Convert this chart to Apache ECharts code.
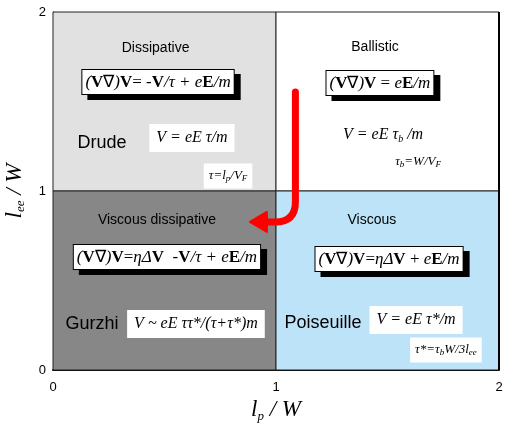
<!DOCTYPE html>
<html>
<head>
<meta charset="utf-8">
<script src="https://cdn.jsdelivr.net/npm/echarts@6/dist/echarts.min.js"></script>
<style>
  html, body { margin: 0; padding: 0; background: #fff; }
  #chart { width: 505px; height: 423px; }
</style>
</head>
<body>
<div id="chart"></div>
<script>
// axis ticks
const xTicks = [0, 1, 2];
const yTicks = [0, 1, 2];

// regime quadrants (l_p/W range, l_ee/W range)
const quadX0 = [0, 1, 0, 1];
const quadX1 = [1, 2, 1, 2];
const quadY0 = [1, 1, 0, 0];
const quadY1 = [2, 2, 1, 1];
const quadFill = ['#e1e1e1', '#ffffff', '#878787', '#bde3f8'];

// region titles
const titleNames = ['Dissipative', 'Ballistic', 'Viscous dissipative', 'Viscous'];
const titleX = [0.46, 1.444, 0.466, 1.43];
const titleY = [1.80, 1.804, 0.838, 0.838];

// regime names
const regimeNames = ['Drude', 'Gurzhi', 'Poiseuille'];
const regimeX = [0.22, 0.175, 1.211];
const regimeY = [1.268, 0.257, 0.263];

// boxed equations of motion
const equations = [
  '{i|(}{b|V}{n|∇}{i|)}{b|V}{n|= -}{b|V}{i|/τ + e}{b|E}{i|/m}',
  '{i|(}{b|V}{n|∇}{i|)}{b|V}{n| = }{i|e}{b|E}{i|/m}',
  '{i|(}{b|V}{n|∇}{i|)}{b|V}{n|=}{i|ηΔ}{b|V}{n|  -}{b|V}{i|/τ + e}{b|E}{i|/m}',
  '{i|(}{b|V}{n|∇}{i|)}{b|V}{n|=}{i|ηΔ}{b|V}{n| + }{i|e}{b|E}{i|/m}'
];
const eqX = [0.471, 1.466, 0.511, 1.507];
const eqY = [1.609, 1.603, 0.631, 0.62];

// velocity formulas
const formulas = [
  '{i|V = eE τ/m}',
  '{i|V = eE τ}{s|b}{i| /m}',
  '{i|V ~ eE ττ*/(τ+τ*)m}',
  '{i|V = eE τ*/m}'
];
const formX = [0.623, 1.48, 0.641, 1.628];
const formY = [1.296, 1.313, 0.257, 0.279];
const formBox = [true, false, true, true];

// relaxation times
const notes = [
  '{i|τ=l}{s|p}{i|/V}{s|F}',
  '{i|τ}{s|b}{i|=W/V}{s|F}',
  '{i|τ*=τ}{s|b}{i|W/3l}{s|ee}'
];
const noteX = [0.785, 1.637, 1.762];
const noteY = [1.084, 1.162, 0.112];
const noteBox = [true, false, true];

// crossover arrow (viscous -> viscous dissipative)
const arrowX = [1.087, 1.087, 0.883];
const arrowY = [1.553, 0.827, 0.827];

const SANS = 'Liberation Sans, Arial, sans-serif';
const SERIF = 'Liberation Serif, Times New Roman, serif';

function rich(size, subSize) {
  const base = { color: '#000', textShadowColor: 'transparent', textShadowBlur: 0 };
  return {
    b: Object.assign({ fontFamily: SERIF, fontWeight: 'bold', fontSize: size }, base),
    i: Object.assign({ fontFamily: SERIF, fontStyle: 'italic', fontSize: size }, base),
    n: Object.assign({ fontFamily: SERIF, fontSize: size }, base),
    s: Object.assign({ fontFamily: SERIF, fontStyle: 'italic', fontSize: subSize,
      verticalAlign: 'bottom', lineHeight: size + 2 }, base)
  };
}

const chart = echarts.init(document.getElementById('chart'));

const textSeries = (data, z) => ({
  type: 'scatter',
  symbolSize: 0,
  silent: true,
  z: z || 10,
  itemStyle: { opacity: 1 },
  data: data
});

const option = {
  animation: false,
  grid: { left: 53, right: 6, top: 12, bottom: 53, show: false, outerBoundsMode: 'none', containLabel: false },
  xAxis: {
    type: 'value', min: 0, max: 2, interval: 1,
    name: '{i|l}{s|p}{i| / W}',
    nameLocation: 'middle', nameGap: 26,
    nameTextStyle: { rich: rich(23, 13) },
    axisLine: { show: true, onZero: false, lineStyle: { color: '#000', width: 2 } },
    axisTick: { show: false },
    splitLine: { show: false },
    axisLabel: { margin: 11, fontFamily: SANS, fontSize: 13, color: '#000',
      formatter: v => xTicks.includes(v) ? String(v) : '' }
  },
  yAxis: {
    type: 'value', min: 0, max: 2, interval: 1,
    name: '{i|l}{s|ee}{i| / W}',
    nameLocation: 'middle', nameGap: 26, nameRotate: 90,
    nameTextStyle: { rich: rich(23, 13) },
    axisLine: { show: true, onZero: false, lineStyle: { color: '#000', width: 1 } },
    axisTick: { show: false },
    splitLine: { show: false },
    axisLabel: { margin: 7, fontFamily: SANS, fontSize: 13, color: '#000',
      formatter: v => yTicks.includes(v) ? String(v) : '' }
  },
  series: [
    {
      type: 'custom',
      silent: true,
      z: 1,
      data: quadFill.map((c, i) => [quadX0[i], quadX1[i], quadY0[i], quadY1[i], i]),
      renderItem: function (params, api) {
        const p0 = api.coord([api.value(0), api.value(3)]);
        const p1 = api.coord([api.value(1), api.value(2)]);
        return {
          type: 'rect',
          shape: { x: p0[0], y: p0[1], width: p1[0] - p0[0], height: p1[1] - p0[1] },
          style: { fill: quadFill[api.value(4)], stroke: '#222', lineWidth: 1 }
        };
      }
    },
    {
      // right border slightly heavier like the original frame
      type: 'custom',
      silent: true,
      z: 2,
      data: [[2, 0, 2]],
      renderItem: function (params, api) {
        const a = api.coord([api.value(0), api.value(1)]);
        const b = api.coord([api.value(0), api.value(2)]);
        return { type: 'line', shape: { x1: a[0], y1: a[1], x2: b[0], y2: b[1] },
          style: { stroke: '#000', lineWidth: 2 } };
      }
    },
    {
      type: 'custom',
      silent: true,
      z: 20,
      data: [[0]],
      renderItem: function (params, api) {
        const s = api.coord([arrowX[0], arrowY[0]]);
        const c = api.coord([arrowX[1], arrowY[1]]);
        const t = api.coord([arrowX[2], arrowY[2]]);
        const r = 20, head = 17, hw = 10;
        const d = 'M' + s[0] + ' ' + s[1] +
          ' L' + c[0] + ' ' + (c[1] - r) +
          ' Q' + c[0] + ' ' + c[1] + ' ' + (c[0] - r) + ' ' + c[1] +
          ' L' + (t[0] + head - 2) + ' ' + t[1];
        return {
          type: 'group',
          children: [
            { type: 'path', shape: { pathData: d },
              style: { fill: null, stroke: '#ff0000', lineWidth: 7, lineCap: 'round', lineJoin: 'round' } },
            { type: 'polygon',
              shape: { points: [[t[0], t[1]], [t[0] + head, t[1] - hw], [t[0] + head, t[1] + hw]] },
              style: { fill: '#ff0000', stroke: '#ff0000', lineWidth: 2, lineJoin: 'round' } }
          ]
        };
      }
    },
    textSeries(titleNames.map((n, i) => ({
      value: [titleX[i], titleY[i]],
      label: { show: true, position: 'inside', formatter: n, fontFamily: SANS, fontSize: 14, color: '#000' }
    }))),
    textSeries(regimeNames.map((n, i) => ({
      value: [regimeX[i], regimeY[i]],
      label: { show: true, position: 'inside', formatter: n, fontFamily: SANS, fontSize: 18, color: '#000' }
    }))),
    // box shadows: plain dark boxes behind the equations
    textSeries(equations.map((n, i) => ({
      value: [eqX[i], eqY[i]],
      label: {
        show: true, position: 'inside', formatter: n, rich: rich(17, 11),
        backgroundColor: '#000', borderColor: '#000', borderWidth: 1,
        padding: [4, 3, 3, 3], offset: [6, 5]
      }
    })), 9),
    textSeries(equations.map((n, i) => ({
      value: [eqX[i], eqY[i]],
      label: {
        show: true, position: 'inside', formatter: n, rich: rich(17, 11),
        backgroundColor: '#fff', borderColor: '#000', borderWidth: 1,
        padding: [4, 3, 3, 3]
      }
    })), 11),
    textSeries(formulas.map((n, i) => ({
      value: [formX[i], formY[i]],
      label: {
        show: true, position: 'inside', formatter: n, rich: rich(16, 10),
        backgroundColor: formBox[i] ? '#fff' : 'transparent',
        padding: [6, 7, 6, 7]
      }
    }))),
    textSeries(notes.map((n, i) => ({
      value: [noteX[i], noteY[i]],
      label: {
        show: true, position: 'inside', formatter: n, rich: rich(13, 9),
        backgroundColor: noteBox[i] ? '#fff' : 'transparent',
        padding: [5, 5, 5, 5]
      }
    })))
  ]
};

chart.setOption(option);
</script>
</body>
</html>
